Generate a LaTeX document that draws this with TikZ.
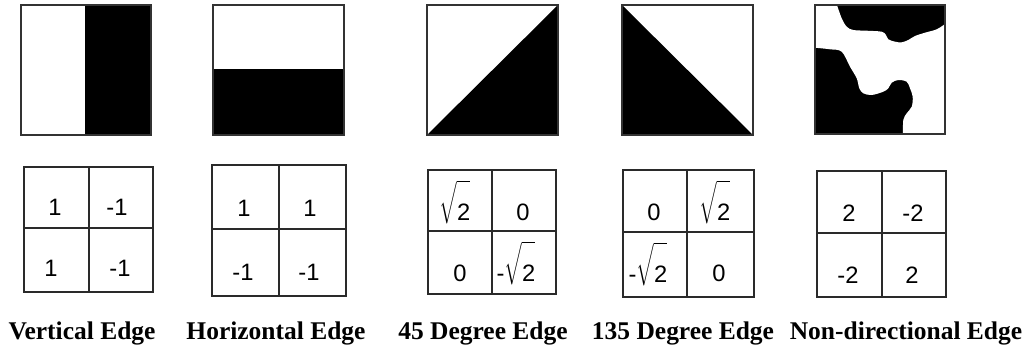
\documentclass[tikz,border=0pt]{standalone}
\usepackage{fontspec}
\setmainfont{Liberation Serif}
\newfontfamily\numfont{Liberation Sans}
\usepackage{xcolor}
\definecolor{tileFrame}{HTML}{333333}
\definecolor{cellLine}{HTML}{2A2A2A}
\usepackage{tikz}
\newcommand{\rtwo}{$\sqrt{\rule{0pt}{19pt}\mbox{2}}$}

\tikzset{
  tile/.style={draw=tileFrame, line width=1pt},
  cellline/.style={draw=cellLine, line width=0.7pt},
  cellnum/.style={anchor=base, inner sep=0pt, font=\numfont\fontsize{13.5}{16}\selectfont},
  caption/.style={anchor=base, inner sep=0pt, font=\bfseries\fontsize{14.5}{17}\selectfont},
}

\begin{document}
\begin{tikzpicture}[x=0.02cm, y=-0.02cm]
    \useasboundingbox (0,0) rectangle (1029,349);

    % 1. Vertical edge
    \fill[black] (85,5) rectangle (151,135);
    \draw[tile] (21,5) rectangle (151,135);
    \draw[cellline] (24,167) rectangle (153,292);
    \draw[cellline] (89,167) -- (89,292);
    \draw[cellline] (24,228) -- (153,228);
    \node[cellnum] (v11) at (55,215) {1};
    \node[cellnum] (v12) at (117,215) {-1};
    \node[cellnum] (v21) at (51,276) {1};
    \node[cellnum] (v22) at (120,276) {-1};
    \node[caption] (capV) at (82,339) {Vertical Edge};

    % 2. Horizontal edge
    \fill[black] (213,69) rectangle (344,135);
    \draw[tile] (213,5) rectangle (344,135);
    \draw[cellline] (212,165) rectangle (346,296);
    \draw[cellline] (279,165) -- (279,296);
    \draw[cellline] (212,229) -- (346,229);
    \node[cellnum] (h11) at (244,216) {1};
    \node[cellnum] (h12) at (310,216) {1};
    \node[cellnum] (h21) at (243,280) {-1};
    \node[cellnum] (h22) at (309,280) {-1};
    \node[caption] (capH) at (276,339) {Horizontal Edge};

    % 3. 45 degree edge (lower right half black)
    \fill[black] (427,135) -- (558,5) -- (558,135) -- cycle;
    \draw[tile] (427,5) rectangle (558,135);
    \draw[cellline] (428,170) rectangle (556,294);
    \draw[cellline] (492,170) -- (492,294);
    \draw[cellline] (428,231) -- (556,231);
    \node[cellnum] (d11) at (455,220) {\rtwo};
    \node[cellnum] (d12) at (523,220) {0};
    \node[cellnum] (d21) at (460,281) {0};
    \node[cellnum] (d22) at (516,281) {-\rtwo};
    \node[caption] (capD) at (483,339) {45 Degree Edge};

    % 4. 135 degree edge (lower left half black)
    \fill[black] (622,5) -- (753,135) -- (622,135) -- cycle;
    \draw[tile] (622,5) rectangle (753,135);
    \draw[cellline] (623,170) rectangle (754,297);
    \draw[cellline] (687,170) -- (687,297);
    \draw[cellline] (623,232) -- (754,232);
    \node[cellnum] (a11) at (654,220) {0};
    \node[cellnum] (a12) at (715,220) {\rtwo};
    \node[cellnum] (a21) at (648,282) {-\rtwo};
    \node[cellnum] (a22) at (719,281) {0};
    \node[caption] (capA) at (683,339) {135 Degree Edge};

    % 5. Non-directional edge (irregular white blob on black)
    \fill[black] (815,5) rectangle (945,134);
    \fill[white] (815,5) -- (837,5)
        -- plot[smooth, tension=0.55] coordinates {(837,5) (841.7,18.3) (846.7,26.7) (853.3,30) (866.7,30.7) (881.7,31.7) (886,35) (888.3,39.3) (895,41.7) (901.7,42.3) (908.3,40) (915,36) (925,32.7) (936.7,29.3) (945,24)}
        -- (945,134) -- (903,134)
        -- plot[smooth, tension=0.55] coordinates {(903,134) (903.3,120) (906.7,113.3) (911.7,106.7) (912.7,96.7) (910,88.3) (906.7,81.7) (898.3,80) (891.7,82.7) (888.3,88.3) (883.3,91.7) (871.7,95) (863.3,93.3) (859.3,88.3) (856.7,78.3) (850,66.7) (841.7,51.7) (830,49.3) (815,47.7)}
        -- cycle;
    \draw[tile] (815,5) rectangle (945,134);
    \draw[cellline] (817,171) rectangle (946,297);
    \draw[cellline] (882,171) -- (882,297);
    \draw[cellline] (817,233) -- (946,233);
    \node[cellnum] (n11) at (849,221) {2};
    \node[cellnum] (n12) at (913,221) {-2};
    \node[cellnum] (n21) at (848,283) {-2};
    \node[cellnum] (n22) at (912,283) {2};
    \node[caption] (capN) at (906,339) {Non-directional Edge};
\end{tikzpicture}
\end{document}
